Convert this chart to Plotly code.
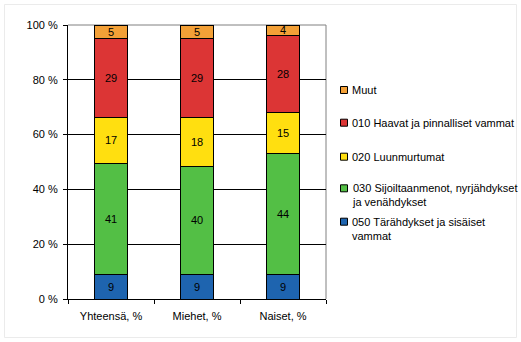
import plotly.graph_objects as go

# ---- data ----
categories = ["Yhteensä, %", "Miehet, %", "Naiset, %"]
series_names = [
    "050 Tärähdykset ja sisäiset<br>vammat",
    "030 Sijoiltaanmenot, nyrjähdykset<br>ja venähdykset",
    "020 Luunmurtumat",
    "010 Haavat ja pinnalliset vammat",
    "Muut",
]
v050 = [9, 9, 9]
v030 = [41, 40, 44]
v020 = [17, 18, 15]
v010 = [29, 29, 28]
vmuut = [5, 5, 4]
series_values = [v050, v030, v020, v010, vmuut]
series_colors = ["#1E64AF", "#53BF45", "#FFDF10", "#DC3535", "#F3A037"]
y_ticks = [0, 20, 40, 60, 80, 100]
y_tick_labels = ["0 %", "20 %", "40 %", "60 %", "80 %", "100 %"]

FONT = "Liberation Sans, Arial, sans-serif"
W, H = 521, 342
L, R, T, B = 68, 326, 25, 299  # plot area in pixels


def px_x(p):
    return (p - L) / (R - L)


def px_y(p):
    return (B - p) / (B - T)


fig = go.Figure()
for name, vals, col in zip(series_names, series_values, series_colors):
    fig.add_trace(go.Bar(
        x=categories, y=vals, name=name.replace("<br>", " "),
        marker=dict(color=col, line=dict(color="black", width=1)),
        text=[str(v) for v in vals], textposition="inside",
        insidetextanchor="middle", textangle=0,
        textfont=dict(family=FONT, size=11, color="black"),
        width=0.39, showlegend=False, hoverinfo="skip",
    ))

shapes = [
    # plot area top/right border (gray)
    dict(type="line", xref="paper", yref="paper", x0=0, x1=1, y0=1, y1=1,
         line=dict(color="#808080", width=1), layer="between"),
    dict(type="line", xref="paper", yref="paper", x0=1, x1=1, y0=0, y1=1,
         line=dict(color="#808080", width=1), layer="between"),
    # faint chart border
    dict(type="rect", xref="paper", yref="paper",
         x0=px_x(4.5), x1=px_x(516.5), y0=px_y(337.5), y1=px_y(4.5),
         line=dict(color="#EBEBEB", width=1), layer="below"),
]
annotations = []

# manual legend (top entry = last series)
legend_rows = [90, 122.7, 156.7, 188.3, 221.7]
for (name, col), yc in zip(reversed(list(zip(series_names, series_colors))), legend_rows):
    shapes.append(dict(type="rect", xref="paper", yref="paper",
                       x0=px_x(340.5), x1=px_x(347.5),
                       y0=px_y(yc + 3.5), y1=px_y(yc - 3.5),
                       fillcolor=col, line=dict(color="black", width=1)))
    annotations.append(dict(xref="paper", yref="paper", x=px_x(349.5), y=px_y(yc - 8),
                            text=name, showarrow=False, xanchor="left", yanchor="top",
                            align="left", font=dict(family=FONT, size=11, color="black")))

fig.update_layout(
    width=W, height=H,
    margin=dict(l=L, r=W - R, t=T, b=H - B, pad=0),
    barmode="stack", barnorm="percent",
    paper_bgcolor="white", plot_bgcolor="white",
    font=dict(family=FONT, size=11, color="black"),
    uniformtext=dict(minsize=11, mode="show"),
    shapes=shapes, annotations=annotations,
    xaxis=dict(type="category", categoryorder="array", categoryarray=categories,
               tickson="boundaries", ticks="outside", ticklen=4, tickcolor="black",
               showline=True, linecolor="black", linewidth=1, showgrid=False,
               ticklabelstandoff=7,
               tickfont=dict(family=FONT, size=11, color="black")),
    yaxis=dict(range=[0, 100], tickmode="array", tickvals=y_ticks, ticktext=y_tick_labels,
               ticks="outside", ticklen=4, tickcolor="black",
               showline=True, linecolor="black", linewidth=1,
               showgrid=True, gridcolor="black", gridwidth=1, zeroline=False,
               ticklabelstandoff=3,
               tickfont=dict(family=FONT, size=11, color="black")),
    showlegend=False,
)

fig.write_html("out.html")
